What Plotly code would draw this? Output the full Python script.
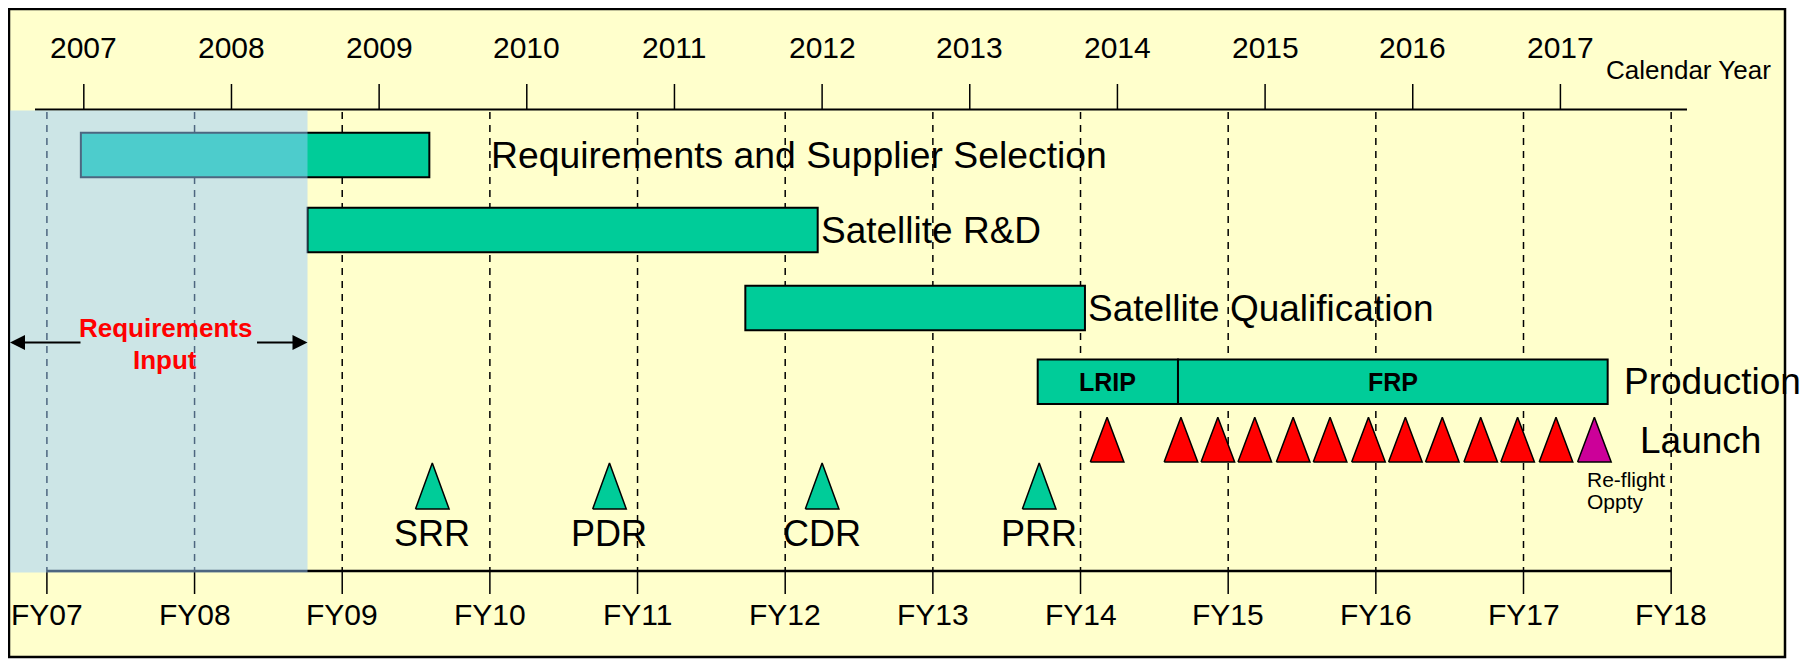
import plotly.graph_objects as go

# ---------------- data ----------------
calendar_years = [2007, 2008, 2009, 2010, 2011, 2012, 2013, 2014, 2015, 2016, 2017]
fy_labels = ["FY07", "FY08", "FY09", "FY10", "FY11", "FY12",
             "FY13", "FY14", "FY15", "FY16", "FY17", "FY18"]
fy_start = [2006.75, 2007.75, 2008.75, 2009.75, 2010.75, 2011.75,
            2012.75, 2013.75, 2014.75, 2015.75, 2016.75, 2017.75]

task_names = ["Requirements and Supplier Selection", "Satellite R&D", "Satellite Qualification"]
task_start = [2006.98, 2008.515, 2011.48]
task_end = [2009.34, 2011.97, 2013.78]

prod_phases = ["LRIP", "FRP"]
prod_start = [2013.46, 2014.41]
prod_end = [2014.41, 2017.32]

launch_dates = [2013.93, 2014.43, 2014.68, 2014.93, 2015.19, 2015.44,
                2015.70, 2015.95, 2016.20, 2016.46, 2016.71, 2016.97]
reflight_dates = [2017.23]

milestone_names = ["SRR", "PDR", "CDR", "PRR"]
milestone_dates = [2009.36, 2010.56, 2012.00, 2013.47]

req_input_end = 2008.515

# ---------------- layout constants ----------------
PAGE_W, PAGE_H = 1812, 659
OFF = 8                      # default page body margin
W, H = PAGE_W - OFF, PAGE_H - OFF
PX_PER_YEAR = 147.66
FY07_PX = 46.9               # page pixel of FY07 line
X_LO = fy_start[0] - (FY07_PX - OFF) / PX_PER_YEAR
X_HI = X_LO + W / PX_PER_YEAR

FONT = "Arial, 'Liberation Sans', sans-serif"
TEAL = "#00CC99"
RED = "#FF0000"
MAGENTA = "#CC0099"
BG = "#FFFFCC"

ROW_Y = [155, 230, 308, 381.7]
BAR_H = 44.5
LAUNCH_TOP, LAUNCH_BASE = 417.3, 462.0
MS_TOP, MS_BASE = 463.0, 509.0
TRI_HALF = 16.8 / PX_PER_YEAR
TOP_AXIS_Y = 109.5
BOT_AXIS_Y = 571


def px(x):
    """page pixel -> paper fraction"""
    return (x - OFF) / W


def triangles(centers, top, base):
    xs, ys = [], []
    for c in centers:
        xs += [c - TRI_HALF, c, c + TRI_HALF, c - TRI_HALF, None]
        ys += [base, top, base, base, None]
    return xs, ys


fig = go.Figure()

# task bars
fig.add_trace(go.Bar(
    orientation="h", y=ROW_Y[:3], base=task_start,
    x=[e - s for s, e in zip(task_start, task_end)],
    width=BAR_H, marker=dict(color=TEAL, line=dict(color="black", width=2)),
    hoverinfo="skip", showlegend=False))

# production bars
fig.add_trace(go.Bar(
    orientation="h", y=[ROW_Y[3]] * len(prod_phases), base=prod_start,
    x=[e - s for s, e in zip(prod_start, prod_end)],
    width=BAR_H, marker=dict(color=TEAL, line=dict(color="black", width=2)),
    hoverinfo="skip", showlegend=False))

# launch triangles
lx, ly = triangles(launch_dates, LAUNCH_TOP, LAUNCH_BASE)
fig.add_trace(go.Scatter(x=lx, y=ly, mode="lines", fill="toself", fillcolor=RED,
                         line=dict(color="black", width=1.5), hoverinfo="skip", showlegend=False))
rx, ry = triangles(reflight_dates, LAUNCH_TOP, LAUNCH_BASE)
fig.add_trace(go.Scatter(x=rx, y=ry, mode="lines", fill="toself", fillcolor=MAGENTA,
                         line=dict(color="black", width=1.5), hoverinfo="skip", showlegend=False))
# milestones
mx, my = triangles(milestone_dates, MS_TOP, MS_BASE)
fig.add_trace(go.Scatter(x=mx, y=my, mode="lines", fill="toself", fillcolor=TEAL,
                         line=dict(color="black", width=1.5), hoverinfo="skip", showlegend=False))

shapes = []
# frame / background
shapes.append(dict(type="rect", xref="paper", yref="y", x0=px(9), x1=px(1785), y0=9, y1=657,
                   fillcolor=BG, line=dict(color="black", width=2.5), layer="below"))
# FY dashed gridlines
for f in fy_start:
    shapes.append(dict(type="line", xref="x", yref="y", x0=f, x1=f, y0=112, y1=BOT_AXIS_Y,
                       line=dict(color="black", width=1.5, dash="7px,6px"), layer="below"))
    shapes.append(dict(type="line", xref="x", yref="y", x0=f, x1=f, y0=BOT_AXIS_Y, y1=594,
                       line=dict(color="black", width=1.5), layer="below"))
# top calendar axis
shapes.append(dict(type="line", xref="paper", yref="y", x0=px(35), x1=px(1687),
                   y0=TOP_AXIS_Y, y1=TOP_AXIS_Y, line=dict(color="black", width=2), layer="below"))
for c in calendar_years:
    shapes.append(dict(type="line", xref="x", yref="y", x0=c, x1=c, y0=84, y1=TOP_AXIS_Y,
                       line=dict(color="black", width=1.5), layer="below"))
# bottom FY axis
shapes.append(dict(type="line", xref="x", yref="y", x0=fy_start[0], x1=fy_start[-1],
                   y0=BOT_AXIS_Y, y1=BOT_AXIS_Y, line=dict(color="black", width=2.5), layer="below"))
# requirements-input overlay
shapes.append(dict(type="rect", xref="x", yref="y", x0=X_LO + (10 - OFF) / PX_PER_YEAR, x1=req_input_end,
                   y0=110.5, y1=572.5, fillcolor="rgba(153,204,255,0.5)", line=dict(width=0),
                   layer="above"))

ann = []
# calendar year labels
for c in calendar_years:
    ann.append(dict(x=c, y=47, xref="x", yref="y", text=str(c), showarrow=False,
                    font=dict(family=FONT, size=30, color="black"), xanchor="center", yanchor="middle"))
ann.append(dict(x=px(1604), y=70, xref="paper", yref="y", text="Calendar Year", showarrow=False,
                font=dict(family=FONT, size=26, color="black"), xanchor="left", yanchor="middle"))
# FY labels
for lab, f in zip(fy_labels, fy_start):
    ann.append(dict(x=f, y=614, xref="x", yref="y", text=lab, showarrow=False,
                    font=dict(family=FONT, size=30, color="black"), xanchor="center", yanchor="middle"))
# task labels
ann.append(dict(x=px(489), y=ROW_Y[0], xref="paper", yref="y", text=task_names[0], showarrow=False,
                font=dict(family=FONT, size=37.3, color="black"), xanchor="left", yanchor="middle"))
for i in (1, 2):
    ann.append(dict(x=task_end[i], y=ROW_Y[i], xref="x", yref="y", text=task_names[i], showarrow=False,
                    xshift=1, font=dict(family=FONT, size=37, color="black"),
                    xanchor="left", yanchor="middle"))
# production labels
for name, s, e in zip(prod_phases, prod_start, prod_end):
    ann.append(dict(x=(s + e) / 2, y=ROW_Y[3], xref="x", yref="y", text="<b>%s</b>" % name,
                    showarrow=False, font=dict(family=FONT, size=25, color="black"),
                    xanchor="center", yanchor="middle"))
ann.append(dict(x=px(1622), y=ROW_Y[3], xref="paper", yref="y", text="Production", showarrow=False,
                font=dict(family=FONT, size=37, color="black"), xanchor="left", yanchor="middle"))
ann.append(dict(x=px(1638), y=440, xref="paper", yref="y", text="Launch", showarrow=False,
                font=dict(family=FONT, size=37, color="black"), xanchor="left", yanchor="middle"))
ann.append(dict(x=px(1585), y=479.5, xref="paper", yref="y", text="Re-flight", showarrow=False,
                font=dict(family=FONT, size=21, color="black"), xanchor="left", yanchor="middle"))
ann.append(dict(x=px(1585), y=501, xref="paper", yref="y", text="Oppty", showarrow=False,
                font=dict(family=FONT, size=21, color="black"), xanchor="left", yanchor="middle"))
# milestone labels
for name, d in zip(milestone_names, milestone_dates):
    ann.append(dict(x=d, y=533, xref="x", yref="y", text=name, showarrow=False,
                    font=dict(family=FONT, size=36, color="black"), xanchor="center", yanchor="middle"))
# requirements input
ann.append(dict(x=px(165), y=328, xref="paper", yref="y", text="<b>Requirements</b>", showarrow=False,
                font=dict(family=FONT, size=26, color=RED), xanchor="center", yanchor="middle"))
ann.append(dict(x=px(165), y=360, xref="paper", yref="y", text="<b>Input</b>", showarrow=False,
                font=dict(family=FONT, size=26, color=RED), xanchor="center", yanchor="middle"))
ann.append(dict(x=px(10), y=342.5, xref="paper", yref="y", ax=72, ay=0, axref="pixel", ayref="pixel",
                text="", showarrow=True, arrowhead=2, arrowsize=1.5, arrowwidth=2,
                arrowcolor="black", standoff=0))
ann.append(dict(x=req_input_end, y=342.5, xref="x", yref="y", ax=-52, ay=0, axref="pixel", ayref="pixel",
                text="", showarrow=True, arrowhead=2, arrowsize=1.5, arrowwidth=2,
                arrowcolor="black", standoff=0))

fig.update_layout(
    width=W, height=H,
    margin=dict(l=0, r=0, t=0, b=0),
    paper_bgcolor="white", plot_bgcolor="white",
    barmode="overlay",
    xaxis=dict(range=[X_LO, X_HI], visible=False, fixedrange=True),
    yaxis=dict(range=[PAGE_H, OFF], visible=False, fixedrange=True),
    shapes=shapes, annotations=ann, showlegend=False,
)

fig.write_html("out.html")
